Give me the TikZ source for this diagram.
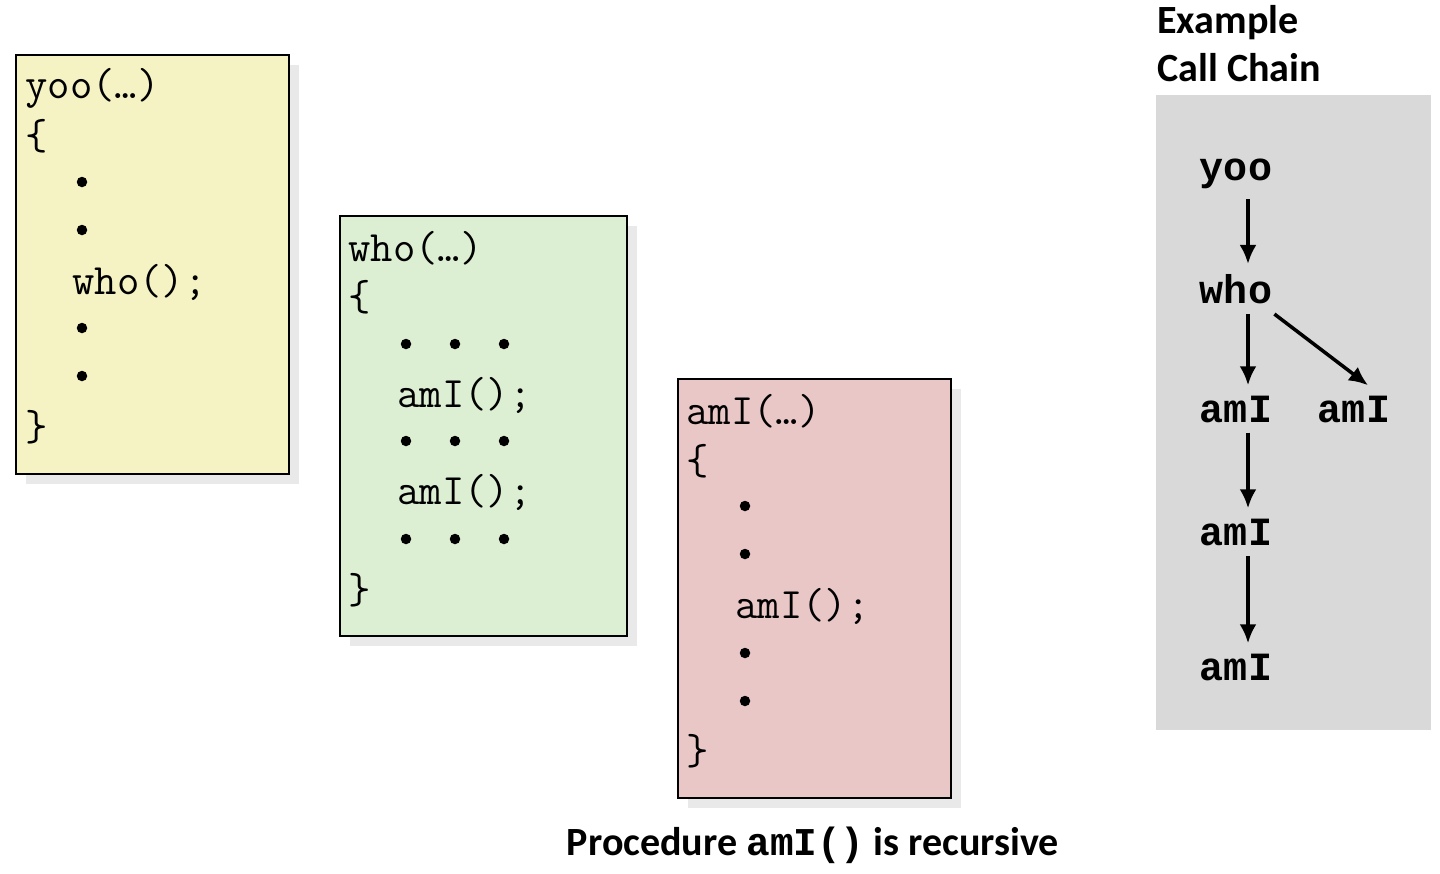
\documentclass[tikz,border=0pt]{standalone}
\usepackage{fontspec}
\setmainfont{Carlito}
\newfontfamily\callfont{Liberation Mono}
\usetikzlibrary{arrows.meta}
\definecolor{yooyellow}{RGB}{245,243,195}
\definecolor{whogreen}{RGB}{220,239,211}
\definecolor{amired}{RGB}{234,199,199}
\definecolor{panelgray}{RGB}{217,217,217}
\definecolor{shadowgray}{RGB}{233,233,233}

\begin{document}
\begin{tikzpicture}[x=0.02cm, y=-0.02cm,
  code/.style={anchor=west, inner sep=0pt, font=\ttfamily\fontsize{24.7}{27}\selectfont},
  dot/.style={circle, fill=black, inner sep=0pt, minimum size=0.21cm},
  call/.style={font=\callfont\bfseries\fontsize{22.8}{24}\selectfont, inner sep=0.2cm},
  callarrow/.style={-{Latex[length=0.38cm,width=0.34cm]}, line width=2pt},
  box/.style={draw=black, line width=1.1pt}]

\useasboundingbox (0,0) rectangle (1440,873);

% ombre e riquadri
\fill[shadowgray] (26,65) rectangle (299,484);
\filldraw[box, fill=yooyellow] (16,55) rectangle (289,474);
\fill[shadowgray] (350,226) rectangle (637,646);
\filldraw[box, fill=whogreen] (340,216) rectangle (627,636);
\fill[shadowgray] (688,389) rectangle (961,808);
\filldraw[box, fill=amired] (678,379) rectangle (951,798);
\fill[panelgray] (1156,95) rectangle (1431,730);

% yoo
\node[code] (yoohead) at (25,88) {yoo(…)};
\node[code] (yooopen) at (25,136) {\{};
\node[dot] (yood1) at (82,182) {};
\node[dot] (yood2) at (82,230) {};
\node[code] (yoocall) at (72,282) {who();};
\node[dot] (yood3) at (82,328) {};
\node[dot] (yood4) at (82,376) {};
\node[code] (yooclose) at (25,427) {\}};

% who
\node[code] (whohead) at (348,248) {who(…)};
\node[code] (whoopen) at (348,297) {\{};
\node[dot] (whoa1) at (406,344) {};
\node[dot] (whoa2) at (455,344) {};
\node[dot] (whoa3) at (504,344) {};
\node[code] (whocall1) at (397,395) {amI();};
\node[dot] (whob1) at (406,441) {};
\node[dot] (whob2) at (455,441) {};
\node[dot] (whob3) at (504,441) {};
\node[code] (whocall2) at (397,492) {amI();};
\node[dot] (whoc1) at (406,539) {};
\node[dot] (whoc2) at (455,539) {};
\node[dot] (whoc3) at (504,539) {};
\node[code] (whoclose) at (348,590) {\}};

% amI
\node[code] (amihead) at (686,411) {amI(…)};
\node[code] (amiopen) at (686,461) {\{};
\node[dot] (amid1) at (745,506) {};
\node[dot] (amid2) at (745,554) {};
\node[code] (amicall) at (735,606) {amI();};
\node[dot] (amid3) at (745,653) {};
\node[dot] (amid4) at (745,701) {};
\node[code] (amiclose) at (686,751) {\}};

% catena
\node[anchor=west, align=left, inner sep=0pt, font=\bfseries\fontsize{22.8}{27.3}\selectfont] (title) at (1157,44) {Example\\Call Chain};
\node[call] (cyoo) at (1236,174) {yoo};
\node[call] (cwho) at (1236,289) {who};
\node[call] (cami1) at (1236,409) {amI};
\node[call] (cami2) at (1354,409) {amI};
\node[call] (cami3) at (1236,532) {amI};
\node[call] (cami4) at (1236,667) {amI};

% Archi
\draw[callarrow] ([xshift=0.24cm]cyoo.south) -- ([xshift=0.24cm]cwho.north);
\draw[callarrow] ([xshift=0.24cm]cwho.south) -- ([xshift=0.24cm]cami1.north);
\draw[callarrow] ([xshift=-0.16cm]cwho.south east) -- ([xshift=0.28cm]cami2.north);
\draw[callarrow] ([xshift=0.24cm]cami1.south) -- ([xshift=0.24cm]cami3.north);
\draw[callarrow] ([xshift=0.24cm]cami3.south) -- ([xshift=0.24cm]cami4.north);

\node[font=\bfseries\fontsize{22.8}{27}\selectfont, inner sep=0pt] (caption) at (813,845) {Procedure {\callfont\fontsize{22.4}{27}\selectfont amI()} is recursive};

\end{tikzpicture}
\end{document}
